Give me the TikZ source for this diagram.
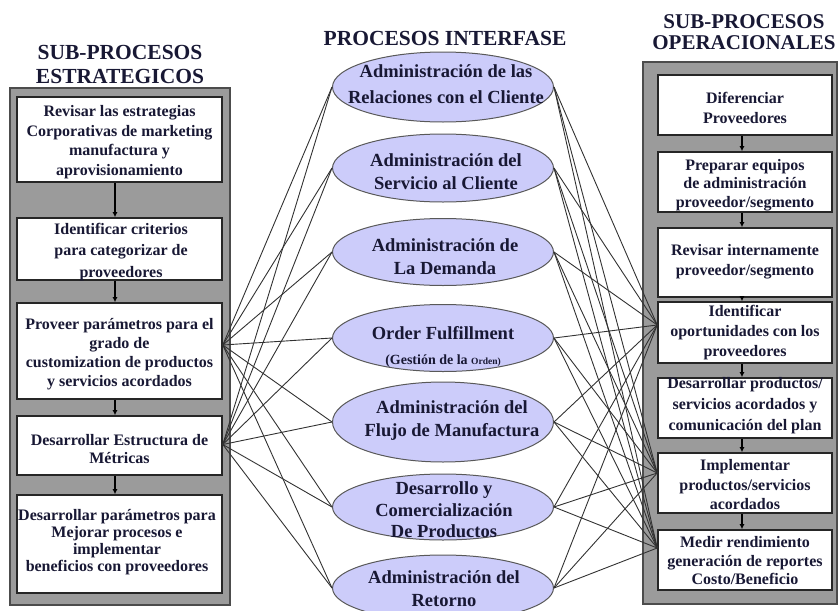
\documentclass[tikz,border=0pt]{standalone}
\usepackage{fontspec}
\setmainfont{Liberation Serif}
\usetikzlibrary{shapes.geometric,arrows.meta}

\definecolor{ink}{RGB}{24,24,52}
\definecolor{lav}{RGB}{204,204,250}
\definecolor{panelgray}{RGB}{155,155,155}
\definecolor{wire}{RGB}{50,50,50}

\tikzset{
  panel/.style={rectangle, draw=black!70, line width=1.6pt, fill=panelgray, inner sep=0pt},
  stepbox/.style={rectangle, draw=black!85, line width=1.6pt, fill=white, inner sep=0pt},
  lbox/.style={stepbox, minimum width=205},
  rbox/.style={stepbox, minimum width=174, minimum height=60},
  proc/.style={ellipse, draw=black!65, line width=1pt, fill=lav, inner sep=0pt,
               minimum width=221, minimum height=#1},
  boxtext/.style={align=center, text=ink, inner sep=0pt,
                  font=\fontsize{16}{18.5}\selectfont\bfseries},
  proctext/.style={align=center, text=ink, inner sep=0pt,
                   font=\fontsize{18.5}{23}\selectfont\bfseries},
  title/.style={align=center, text=ink, inner sep=0pt,
                font=\fontsize{21.5}{24}\selectfont\bfseries},
  flow/.style={-{Latex[length=5pt,width=5pt]}, line width=1.3pt, black},
  wire/.style={draw=wire, line width=0.9pt},
}

\begin{document}
\begin{tikzpicture}[x=1pt,y=-1pt]
\useasboundingbox (0,0) rectangle (839,611);

% ---------------- titles ----------------
\node[title] (TL) at (120,64) {SUB-PROCESOS\\ESTRATEGICOS};
\node[title] (TM) at (445,38) {PROCESOS INTERFASE};
\node[title, font=\fontsize{21}{20.5}\selectfont\bfseries] (TR) at (744,32) {SUB-PROCESOS\\OPERACIONALES};

% ---------------- strategic sub-processes ----------------
\node[panel, minimum width=220, minimum height=517] (LP) at (120,346.5) {};
\node[lbox, minimum height=85] (L1) at (119.5,139.5) {};
\node[lbox, minimum height=62] (L2) at (119.5,249) {};
\node[lbox, minimum height=96] (L3) at (119.5,351) {};
\node[lbox, minimum height=59] (L4) at (119.5,445.5) {};
\node[lbox, minimum height=98] (L5) at (119.5,544) {};

\node[boxtext, font=\fontsize{16}{19.5}\selectfont\bfseries] (L1t) at (119.5,142)
  {Revisar las estrategias\\Corporativas de marketing\\manufactura y\\aprovisionamiento};
\node[boxtext, font=\fontsize{16}{21.5}\selectfont\bfseries] (L2t) at (121,252)
  {Identificar criterios\\para categorizar de\\proveedores};
\node[boxtext, font=\fontsize{16}{19}\selectfont\bfseries] (L3t) at (119.5,354)
  {Proveer parámetros para el\\grado de\\customization de productos\\y servicios acordados};
\node[boxtext] (L4t) at (119.5,449) {Desarrollar Estructura de\\Métricas};
\node[boxtext, font=\fontsize{16}{17}\selectfont\bfseries] (L5t) at (117,542)
  {Desarrollar parámetros para\\Mejorar procesos e\\implementar\\beneficios con proveedores};

\draw[flow] (L1.south -| 115,0) -- (L2.north -| 115,0);
\draw[flow] (L2.south -| 115,0) -- (L3.north -| 115,0);
\draw[flow] (L3.south -| 115,0) -- (L4.north -| 115,0);
\draw[flow] (L4.south -| 115,0) -- (L5.north -| 115,0);

% ---------------- operational sub-processes ----------------
\node[panel, minimum width=194, minimum height=542] (RP) at (740,333) {};
\node[rbox] (R1) at (745,105) {};
\node[rbox] (R2) at (745,182) {};
\node[rbox, minimum height=69] (R3) at (745,262.5) {};
\node[rbox, minimum height=61] (R4) at (745,332.5) {};
\node[rbox] (R5) at (745,408) {};
\node[rbox] (R6) at (745,483) {};
\node[rbox] (R7) at (745,560) {};

\node[boxtext, font=\fontsize{16}{20}\selectfont\bfseries] (R1t) at (745,108) {Diferenciar\\Proveedores};
\node[boxtext] (R2t) at (745,185) {Preparar equipos\\de administración\\proveedor/segmento};
\node[boxtext, font=\fontsize{16}{20}\selectfont\bfseries] (R3t) at (745,262) {Revisar internamente\\proveedor/segmento};
\node[boxtext, font=\fontsize{16}{20}\selectfont\bfseries] (R4t) at (745,333) {Identificar\\oportunidades con los\\proveedores};
\node[boxtext, font=\fontsize{16}{21}\selectfont\bfseries] (R5t) at (745,406) {Desarrollar productos/\\servicios acordados y\\comunicación del plan};
\node[boxtext, font=\fontsize{16}{19.5}\selectfont\bfseries] (R6t) at (745,485) {Implementar\\productos/servicios\\acordados};
\node[boxtext] (R7t) at (745,561) {Medir rendimiento\\generación de reportes\\Costo/Beneficio};

\draw[flow] (R1.south -| 742,0) -- (R2.north -| 742,0);
\draw[flow] (R2.south -| 742,0) -- (R3.north -| 742,0);
\draw[flow] (R3.south -| 742,0) -- (R4.north -| 742,0);
\draw[flow] (R4.south -| 742,0) -- (R5.north -| 742,0);
\draw[flow] (R5.south -| 742,0) -- (R6.north -| 742,0);
\draw[flow] (R6.south -| 742,0) -- (R7.north -| 742,0);

% ---------------- interface processes ----------------
\node[proc=70] (E1) at (443,87) {};
\node[proc=68] (E2) at (443,168) {};
\node[proc=67] (E3) at (443,252) {};
\node[proc=67] (E4) at (443,338) {};
\node[proc=80] (E5) at (443,422) {};
\node[proc=66] (E6) at (443,507) {};
\node[proc=66] (E7) at (443,588) {};

\node[proctext, font=\fontsize{18.5}{26}\selectfont\bfseries] (E1t) at (446,84) {Administración de las\\Relaciones con el Cliente};
\node[proctext] (E2t) at (446,171.5) {Administración del\\Servicio al Cliente};
\node[proctext] (E3t) at (445,257) {Administración de\\La Demanda};
\node[proctext, font=\fontsize{18.5}{25}\selectfont\bfseries] (E4t) at (443,347)
  {Order Fulfillment\\{\fontsize{14}{16}\selectfont (Gestión de la \fontsize{9.5}{11}\selectfont Orden)}};
\node[proctext] (E5t) at (452,421) {Administración del\\Flujo de Manufactura};
\node[proctext, font=\fontsize{18.5}{21.5}\selectfont\bfseries] (E6t) at (444,510) {Desarrollo y\\Comercialización\\De Productos};
\node[proctext] (E7t) at (444,589) {Administración del\\Retorno};

% ---------------- links to the strategic side ----------------
\foreach \e in {E1,E2,E3,E4,E5,E6,E7} {
  \draw[wire] (\e.west) -- ([yshift=6pt]L3.east);
  \draw[wire] (\e.west) -- ([yshift=1pt]L4.east);
}

% ---------------- links to the operational side ----------------
\foreach \e in {E1,E2,E3,E4,E5,E6,E7} {
  \draw[wire] (\e.east) -- ([yshift=7.5pt]R4.west);
  \draw[wire] (\e.east) -- ([yshift=10pt]R6.west);
  \draw[wire] (\e.east) -- ([yshift=12pt]R7.west);
}
\end{tikzpicture}
\end{document}
